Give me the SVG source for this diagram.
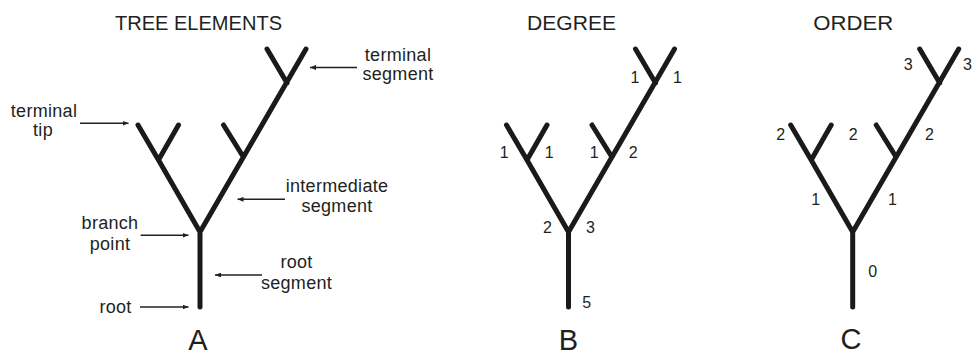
<svg xmlns="http://www.w3.org/2000/svg" width="973" height="356" viewBox="0 0 973 356">
<style>
.tree{fill:none;stroke:#1a1a1a;stroke-width:5;stroke-linecap:round;stroke-linejoin:round}
text{font-family:"Liberation Sans",Arial,sans-serif;fill:#231f20}
.title{font-size:20px}
.lbl{font-size:18px;letter-spacing:0.3px;text-anchor:middle}
.num{font-size:16px;text-anchor:middle}
.big{font-size:29px;text-anchor:middle}
.arr{stroke:#231f20;stroke-width:1.5;fill:none;marker-end:url(#ah)}
</style>
<defs>
<marker id="ah" viewBox="0 0 10 8" refX="10" refY="4" markerWidth="6" markerHeight="4.8" markerUnits="userSpaceOnUse" orient="auto">
<path d="M0,0 L10,4 L0,8 Z" fill="#231f20"/>
</marker>
<path id="treeShape" d="M0,0 V75 M0,0 L-41.5,-72 L-62,-107 M-41.5,-72 L-21.5,-107 M0,0 L106,-183 M43.4,-75 L23.5,-107 M87,-149 L67,-183"/>
</defs>

<g id="panel-a">
<text class="title" x="115" y="30" textLength="167" lengthAdjust="spacingAndGlyphs">TREE ELEMENTS</text>
<g id="tree-a" class="tree" transform="translate(200,232)"><use href="#treeShape"/></g>
<text class="big" x="198" y="349.5">A</text>
</g>

<g id="label-terminal-segment"><text class="lbl" x="398" y="61">terminal</text><text class="lbl" x="398" y="80">segment</text></g>
<g id="label-terminal-tip"><text class="lbl" x="44" y="117">terminal</text><text class="lbl" x="43" y="136">tip</text></g>
<g id="label-intermediate-segment"><text class="lbl" x="337" y="192">intermediate</text><text class="lbl" x="337" y="212">segment</text></g>
<g id="label-branch-point"><text class="lbl" x="110" y="229">branch</text><text class="lbl" x="110" y="250">point</text></g>
<g id="label-root-segment"><text class="lbl" x="296.5" y="268">root</text><text class="lbl" x="296.5" y="289">segment</text></g>
<g id="label-root"><text class="lbl" x="115.5" y="313">root</text></g>

<g id="connectors">
<line class="arr" x1="357" y1="67.5" x2="310" y2="67.5"/>
<line class="arr" x1="80" y1="123.3" x2="128.5" y2="123.3"/>
<line class="arr" x1="285" y1="199.3" x2="237.5" y2="199.3"/>
<line class="arr" x1="140.7" y1="235.3" x2="188.5" y2="235.3"/>
<line class="arr" x1="262" y1="275" x2="215" y2="275"/>
<line class="arr" x1="140" y1="307" x2="188.5" y2="307"/>
</g>

<g id="panel-b">
<text class="title" x="527" y="30" textLength="89" lengthAdjust="spacingAndGlyphs">DEGREE</text>
<g id="tree-b" class="tree" transform="translate(568.5,232)"><use href="#treeShape"/></g>
<text class="num" x="635" y="83.3">1</text>
<text class="num" x="677.5" y="83.3">1</text>
<text class="num" x="504.2" y="158.3">1</text>
<text class="num" x="549.2" y="158.3">1</text>
<text class="num" x="594.2" y="158.3">1</text>
<text class="num" x="633.3" y="158.3">2</text>
<text class="num" x="547.5" y="233">2</text>
<text class="num" x="590.5" y="233">3</text>
<text class="num" x="586.7" y="308">5</text>
<text class="big" x="568.5" y="349.5">B</text>
</g>

<g id="panel-c">
<text class="title" x="813.3" y="30" textLength="80" lengthAdjust="spacingAndGlyphs">ORDER</text>
<g id="tree-c" class="tree" transform="translate(852.7,232)"><use href="#treeShape"/></g>
<text class="num" x="908.3" y="70">3</text>
<text class="num" x="967.5" y="70">3</text>
<text class="num" x="780.8" y="140">2</text>
<text class="num" x="853.3" y="140">2</text>
<text class="num" x="929.5" y="140">2</text>
<text class="num" x="815.8" y="205">1</text>
<text class="num" x="892.5" y="205">1</text>
<text class="num" x="872.7" y="276.7">0</text>
<text class="big" x="851" y="349">C</text>
</g>
</svg>
